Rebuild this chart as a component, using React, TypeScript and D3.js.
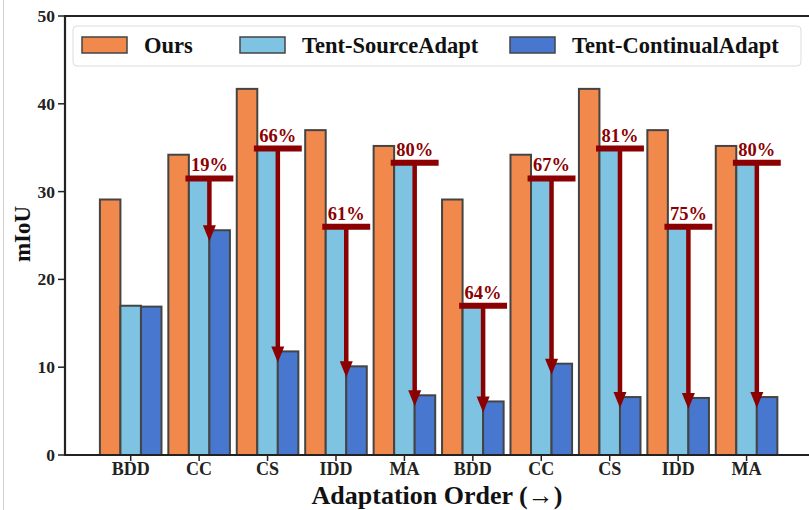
import React, { useEffect, useRef } from 'react';
import * as d3 from 'd3';

const categories = ['BDD', 'CC', 'CS', 'IDD', 'MA', 'BDD', 'CC', 'CS', 'IDD', 'MA'];
const ours = [29.1, 34.2, 41.7, 37.0, 35.2, 29.1, 34.2, 41.7, 37.0, 35.2];
const sourceAdapt = [17.0, 31.5, 34.9, 26.0, 33.3, 17.0, 31.5, 34.9, 26.0, 33.3];
const continualAdapt = [16.9, 25.6, 11.8, 10.1, 6.8, 6.1, 10.4, 6.6, 6.5, 6.6];
// drop labels, one per group except the first
const dropLabels = ['', '19%', '66%', '61%', '80%', '64%', '67%', '81%', '75%', '80%'];
const yTicks = [0, 10, 20, 30, 40, 50];
const seriesNames = ['Ours', 'Tent-SourceAdapt', 'Tent-ContinualAdapt'];
const seriesColors = ['#F0894B', '#7EC4E2', '#4877CF'];

const W = 809;
const H = 510;
const FONT = '"Liberation Serif", "Times New Roman", serif';
const RED = '#8B0000';

export default function App() {
  const ref = useRef<SVGSVGElement>(null);

  useEffect(() => {
    const svg = d3.select(ref.current);
    svg.selectAll('*').remove();

    const x = d3.scaleLinear().domain([-0.96, 10]).range([65, 815]);
    const y = d3.scaleLinear().domain([0, 50]).range([455, 16]);
    const bw = 0.3;
    const px = (v: number) => x(v) - x(0);

    // faint page border on the left
    svg.append('line').attr('x1', 3.5).attr('x2', 3.5).attr('y1', 0).attr('y2', H)
      .attr('stroke', '#d0d0d0').attr('stroke-width', 1);

    const series = [ours, sourceAdapt, continualAdapt];
    series.forEach((vals, s) => {
      svg.append('g').selectAll('rect').data(vals).join('rect')
        .attr('x', (_d, i) => x(i + (s - 1.5) * bw))
        .attr('width', px(bw))
        .attr('y', d => y(d))
        .attr('height', d => y(0) - y(d))
        .attr('fill', seriesColors[s])
        .attr('stroke', '#444')
        .attr('stroke-width', 2);
    });

    // drop arrows
    const ann = svg.append('g');
    categories.forEach((_c, i) => {
      if (!dropLabels[i]) return;
      const ax = x(i + bw / 2);
      const y0 = y(sourceAdapt[i]);
      const tip = y(continualAdapt[i]) + 11;
      const headH = 16;
      const headW = 13;
      ann.append('line')
        .attr('x1', x(i + bw / 2 - 0.35)).attr('x2', x(i + bw / 2 + 0.35))
        .attr('y1', y0).attr('y2', y0)
        .attr('stroke', RED).attr('stroke-width', 6);
      ann.append('line')
        .attr('x1', ax).attr('x2', ax)
        .attr('y1', y0).attr('y2', tip - headH + 1)
        .attr('stroke', RED).attr('stroke-width', 4.5);
      ann.append('path')
        .attr('d', `M${ax - headW / 2},${tip - headH} L${ax + headW / 2},${tip - headH} L${ax},${tip} Z`)
        .attr('fill', RED);
      ann.append('text')
        .attr('x', ax).attr('y', y0 - 7)
        .attr('text-anchor', 'middle')
        .attr('font-family', FONT).attr('font-weight', 'bold').attr('font-size', 18.5)
        .attr('fill', RED)
        .text(dropLabels[i]);
    });

    // axes
    const axisColor = '#222';
    svg.append('line').attr('x1', 65).attr('x2', 815).attr('y1', y(50)).attr('y2', y(50))
      .attr('stroke', axisColor).attr('stroke-width', 2.2);
    svg.append('line').attr('x1', 65).attr('x2', 815).attr('y1', y(0)).attr('y2', y(0))
      .attr('stroke', axisColor).attr('stroke-width', 2.2);
    svg.append('line').attr('x1', 65).attr('x2', 65).attr('y1', y(50) - 1).attr('y2', y(0) + 1)
      .attr('stroke', axisColor).attr('stroke-width', 2.2);

    const yAxis = svg.append('g');
    yTicks.forEach(t => {
      yAxis.append('line').attr('x1', 58).attr('x2', 65).attr('y1', y(t)).attr('y2', y(t))
        .attr('stroke', axisColor).attr('stroke-width', 1.5);
      yAxis.append('text').attr('x', 55).attr('y', y(t) + 6)
        .attr('text-anchor', 'end')
        .attr('font-family', FONT).attr('font-weight', 'bold').attr('font-size', 17.5)
        .attr('fill', '#222').text(String(t));
    });

    const xAxis = svg.append('g');
    categories.forEach((c, i) => {
      xAxis.append('line').attr('x1', x(i)).attr('x2', x(i)).attr('y1', y(0)).attr('y2', y(0) + 6)
        .attr('stroke', axisColor).attr('stroke-width', 1.5);
      xAxis.append('text').attr('x', x(i)).attr('y', 475)
        .attr('text-anchor', 'middle')
        .attr('font-family', FONT).attr('font-weight', 'bold').attr('font-size', 18)
        .attr('fill', '#222').text(c);
    });

    svg.append('text').attr('x', 437).attr('y', 504)
      .attr('text-anchor', 'middle')
      .attr('font-family', FONT).attr('font-weight', 'bold').attr('font-size', 26)
      .attr('fill', '#111').text('Adaptation Order (→)');

    svg.append('text')
      .attr('transform', 'translate(30,234) rotate(-90)')
      .attr('text-anchor', 'middle')
      .attr('font-family', FONT).attr('font-weight', 'bold').attr('font-size', 23)
      .attr('fill', '#111').text('mIoU');

    // legend
    const lg = svg.append('g');
    lg.append('rect').attr('x', 73).attr('y', 26).attr('width', 728).attr('height', 40)
      .attr('rx', 4).attr('fill', 'white').attr('fill-opacity', 0.85)
      .attr('stroke', '#dcdcdc').attr('stroke-width', 1);
    const patchX = [82, 240, 510];
    seriesNames.forEach((name, s) => {
      lg.append('rect').attr('x', patchX[s]).attr('y', 37).attr('width', 45).attr('height', 16)
        .attr('fill', seriesColors[s]).attr('stroke', '#444').attr('stroke-width', 1.5);
      lg.append('text').attr('x', patchX[s] + 62).attr('y', 53)
        .attr('font-family', FONT).attr('font-weight', 'bold').attr('font-size', 22.5)
        .attr('fill', '#111').text(name);
    });
  }, []);

  return (
    <svg ref={ref} width={W} height={H}
      style={{ position: 'absolute', left: 0, top: 0, background: 'white' }} />
  );
}
